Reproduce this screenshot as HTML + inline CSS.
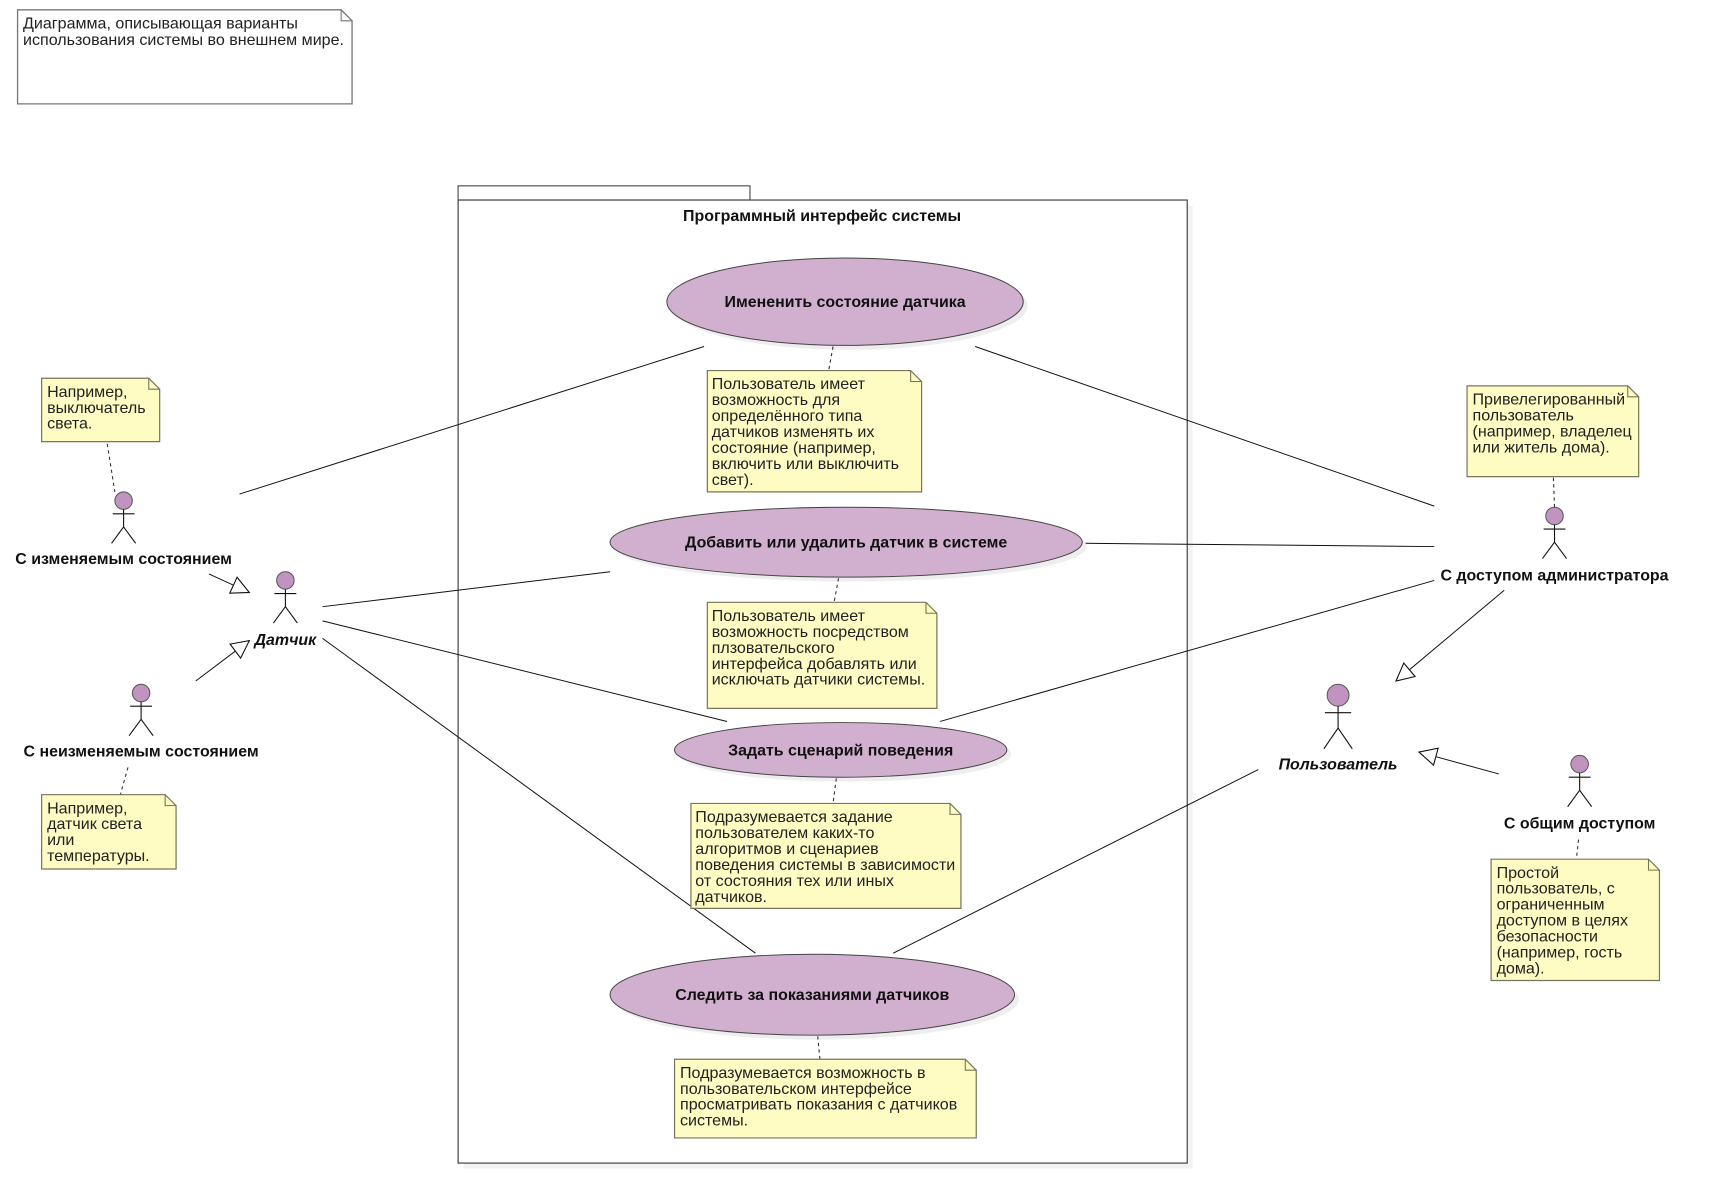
<!DOCTYPE html>
<html><head><meta charset="utf-8"><style>
html,body{margin:0;padding:0;background:#fff;}
svg{display:block;}
text{font-family:"Liberation Sans","DejaVu Sans",sans-serif;fill:#111;}
.n{font-size:14.7px;fill:#222;}
.b{font-size:14.6px;font-weight:bold;}
.note{fill:#fefbc3;stroke:#76765a;stroke-width:1.1;}
.ln{stroke:#111;stroke-width:0.9;fill:none;}
.dt{stroke:#333;stroke-width:1;stroke-dasharray:3,3;fill:none;}
.uc{fill:#d1afcf;stroke:#444;stroke-width:0.9;}
.head{fill:#c193c0;stroke:#555;stroke-width:0.9;}
.act{stroke:#111;stroke-width:1;fill:none;}
</style></head><body>
<svg width="1712" height="1202" viewBox="0 0 1566 1099.6" xmlns="http://www.w3.org/2000/svg">
<defs>
<marker id="tri" markerWidth="20" markerHeight="20" refX="17" refY="9" orient="auto" markerUnits="userSpaceOnUse">
<path d="M1,1 L17,9 L1,17 Z" fill="#fff" stroke="#111" stroke-width="1"/>
</marker>
</defs>

<path d="M16,9 H312 L322,19 V95 H16 Z" fill="#fff" stroke="#777" stroke-width="1.2"/>
<path d="M312,9 L312,19 L322,19" fill="none" stroke="#777"/>
<text class="n" x="21" y="26">Диаграмма, описывающая варианты</text>
<text class="n" x="21" y="41">использования системы во внешнем мире.</text>

<rect x="424" y="188" width="667" height="881" fill="#f3f3f3"/>
<rect x="419" y="170" width="267" height="13" fill="#fff" stroke="#555" stroke-width="1.1"/>
<rect x="419" y="183" width="667" height="881" fill="#fff" stroke="#444" stroke-width="1.1"/>
<text class="b" x="752" y="202" text-anchor="middle">Программный интерфейс системы</text>

<line class="ln" x1="219" y1="452" x2="644" y2="317"/>
<line class="ln" x1="295" y1="555" x2="558" y2="523"/>
<line class="ln" x1="295" y1="568" x2="665" y2="660"/>
<line class="ln" x1="295" y1="584" x2="691" y2="872"/>
<line class="ln" x1="892" y1="317" x2="1312" y2="463"/>
<line class="ln" x1="990" y1="497" x2="1312" y2="500"/>
<line class="ln" x1="860" y1="660" x2="1312" y2="531"/>
<line class="ln" x1="817" y1="872" x2="1151" y2="704"/>

<ellipse cx="777" cy="280" rx="163" ry="40" fill="#eee"/>
<ellipse class="uc" cx="773" cy="276" rx="163" ry="40"/>
<text class="b" x="773" y="281" text-anchor="middle">Имененить состояние датчика</text>

<ellipse cx="778" cy="500" rx="216" ry="32" fill="#eee"/>
<ellipse class="uc" cx="774" cy="496" rx="216" ry="32"/>
<text class="b" x="774" y="501" text-anchor="middle">Добавить или удалить датчик в системе</text>

<ellipse cx="773" cy="690" rx="152" ry="25" fill="#eee"/>
<ellipse class="uc" cx="769" cy="686" rx="152" ry="25"/>
<text class="b" x="769" y="691" text-anchor="middle">Задать сценарий поведения</text>

<ellipse cx="747" cy="914" rx="185" ry="37" fill="#eee"/>
<ellipse class="uc" cx="743" cy="910" rx="185" ry="37"/>
<text class="b" x="743" y="915" text-anchor="middle">Следить за показаниями датчиков</text>

<line class="dt" x1="762" y1="317" x2="758" y2="339"/>
<line class="dt" x1="767" y1="529" x2="763" y2="551"/>
<line class="dt" x1="765" y1="712" x2="762" y2="735"/>
<line class="dt" x1="748" y1="948" x2="750" y2="969"/>
<line class="dt" x1="98" y1="406" x2="105" y2="450"/>
<line class="dt" x1="117" y1="702" x2="110" y2="727"/>
<line class="dt" x1="1421" y1="437" x2="1422" y2="464"/>
<line class="dt" x1="1444" y1="768" x2="1442" y2="786"/>

<g>
<path class="note" d="M647,339 H833 L843,349 V450 H647 Z"/><path d="M833,339 V349 H843" fill="none" stroke="#76765a"/>
<text class="n" x="651" y="356">Пользователь имеет</text>
<text class="n" x="651" y="370.6">возможность для</text>
<text class="n" x="651" y="385.2">определённого типа</text>
<text class="n" x="651" y="399.8">датчиков изменять их</text>
<text class="n" x="651" y="414.4">состояние (например,</text>
<text class="n" x="651" y="429">включить или выключить</text>
<text class="n" x="651" y="443.6">свет).</text>
</g>
<g>
<path class="note" d="M647,551 H847 L857,561 V648 H647 Z"/><path d="M847,551 V561 H857" fill="none" stroke="#76765a"/>
<text class="n" x="651" y="568">Пользователь имеет</text>
<text class="n" x="651" y="582.6">возможность посредством</text>
<text class="n" x="651" y="597.2">плзовательского</text>
<text class="n" x="651" y="611.8">интерфейса добавлять или</text>
<text class="n" x="651" y="626.4">исключать датчики системы.</text>
</g>
<g>
<path class="note" d="M632,735 H869 L879,745 V831 H632 Z"/><path d="M869,735 V745 H879" fill="none" stroke="#76765a"/>
<text class="n" x="636" y="752">Подразумевается задание</text>
<text class="n" x="636" y="766.6">пользователем каких-то</text>
<text class="n" x="636" y="781.2">алгоритмов и сценариев</text>
<text class="n" x="636" y="795.8">поведения системы в зависимости</text>
<text class="n" x="636" y="810.4">от состояния тех или иных</text>
<text class="n" x="636" y="825">датчиков.</text>
</g>
<g>
<path class="note" d="M617,969 H883 L893,979 V1041 H617 Z"/><path d="M883,969 V979 H893" fill="none" stroke="#76765a"/>
<text class="n" x="622" y="986">Подразумевается возможность в</text>
<text class="n" x="622" y="1000.6">пользовательском интерфейсе</text>
<text class="n" x="622" y="1015.2">просматривать показания с датчиков</text>
<text class="n" x="622" y="1029.8">системы.</text>
</g>
<g>
<path class="note" d="M38,346 H136 L146,356 V404 H38 Z"/><path d="M136,346 V356 H146" fill="none" stroke="#76765a"/>
<text class="n" x="43" y="363">Например,</text>
<text class="n" x="43" y="377.6">выключатель</text>
<text class="n" x="43" y="392.2">света.</text>
</g>
<g>
<path class="note" d="M38,727 H151 L161,737 V795 H38 Z"/><path d="M151,727 V737 H161" fill="none" stroke="#76765a"/>
<text class="n" x="43" y="744">Например,</text>
<text class="n" x="43" y="758.6">датчик света</text>
<text class="n" x="43" y="773.2">или</text>
<text class="n" x="43" y="787.8">температуры.</text>
</g>
<g>
<path class="note" d="M1342,353 H1489 L1499,363 V436 H1342 Z"/><path d="M1489,353 V363 H1499" fill="none" stroke="#76765a"/>
<text class="n" x="1347" y="370">Привелегированный</text>
<text class="n" x="1347" y="384.6">пользователь</text>
<text class="n" x="1347" y="399.2">(например, владелец</text>
<text class="n" x="1347" y="413.8">или житель дома).</text>
</g>
<g>
<path class="note" d="M1364,786 H1508 L1518,796 V897 H1364 Z"/><path d="M1508,786 V796 H1518" fill="none" stroke="#76765a"/>
<text class="n" x="1369" y="803">Простой</text>
<text class="n" x="1369" y="817.6">пользователь, с</text>
<text class="n" x="1369" y="832.2">ограниченным</text>
<text class="n" x="1369" y="846.8">доступом в целях</text>
<text class="n" x="1369" y="861.4">безопасности</text>
<text class="n" x="1369" y="876">(например, гость</text>
<text class="n" x="1369" y="890.6">дома).</text>
</g>

<g>
<circle class="head" cx="113" cy="458" r="8"/>
<path class="act" d="M113,466 V482 M103,470 H123 M113,482 L102,497 M113,482 L124,497"/>
<text class="b" x="113" y="516" text-anchor="middle">С изменяемым состоянием</text>
</g>
<g>
<circle class="head" cx="261" cy="531" r="8"/>
<path class="act" d="M261,539 V555 M251,543 H271 M261,555 L250,570 M261,555 L272,570"/>
<text class="b" x="261" y="590" text-anchor="middle" font-style="italic">Датчик</text>
</g>
<g>
<circle class="head" cx="129" cy="634" r="8"/>
<path class="act" d="M129,642 V658 M119,646 H139 M129,658 L118,673 M129,658 L140,673"/>
<text class="b" x="129" y="692" text-anchor="middle">С неизменяемым состоянием</text>
</g>
<g>
<circle class="head" cx="1422" cy="472" r="8"/>
<path class="act" d="M1422,480 V496 M1412,484 H1432 M1422,496 L1411,511 M1422,496 L1433,511"/>
<text class="b" x="1422" y="531" text-anchor="middle">С доступом администратора</text>
</g>
<g>
<circle class="head" cx="1224" cy="636" r="10"/>
<path class="act" d="M1224,646 V666 M1212,652 H1236 M1224,666 L1211,685 M1224,666 L1237,685"/>
<text class="b" x="1224" y="704" text-anchor="middle" font-style="italic">Пользователь</text>
</g>
<g>
<circle class="head" cx="1445" cy="699" r="8"/>
<path class="act" d="M1445,707 V723 M1435,711 H1455 M1445,723 L1434,738 M1445,723 L1456,738"/>
<text class="b" x="1445" y="758" text-anchor="middle">С общим доступом</text>
</g>

<line class="ln" x1="191" y1="525" x2="228" y2="542" marker-end="url(#tri)"/>
<line class="ln" x1="179" y1="623" x2="228" y2="586" marker-end="url(#tri)"/>
<line class="ln" x1="1376" y1="540" x2="1277" y2="623" marker-end="url(#tri)"/>
<line class="ln" x1="1371" y1="708" x2="1298" y2="688" marker-end="url(#tri)"/>
</svg>
</body></html>
